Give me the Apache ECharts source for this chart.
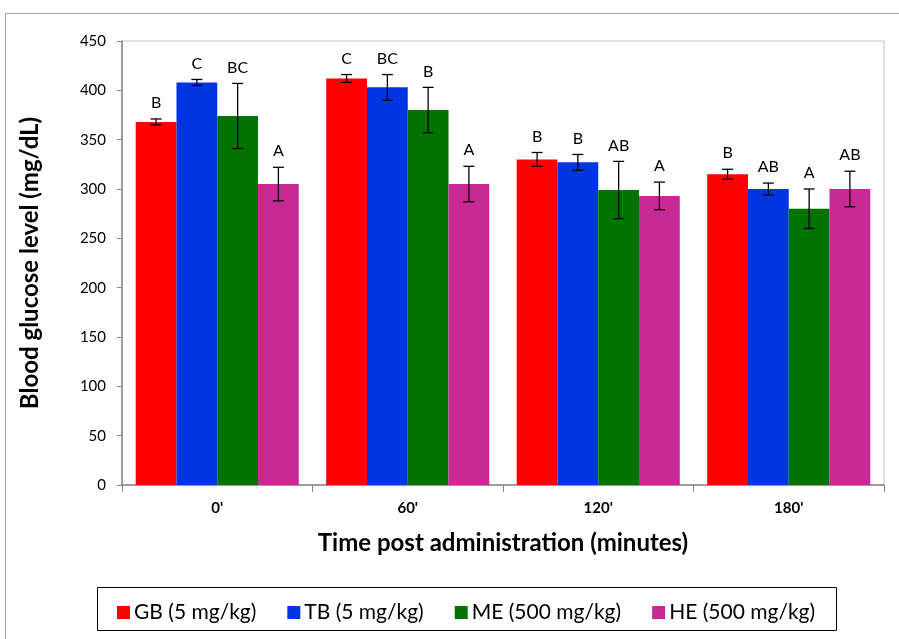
<!DOCTYPE html>
<html>
<head>
<meta charset="utf-8">
<script src="https://cdn.jsdelivr.net/npm/echarts@6/dist/echarts.min.js"></script>
<style>html,body{margin:0;padding:0;background:#fff;}#c{width:899px;height:639px;}</style>
</head>
<body>
<div id="c"></div>
<script>
const categories = ["0'", "60'", "120'", "180'"];
const seriesNames = ["GB (5 mg/kg)", "TB (5 mg/kg)", "ME (500 mg/kg)", "HE (500 mg/kg)"];
const gbValues = [368, 412, 330, 315];
const tbValues = [408, 403, 327, 300];
const meValues = [374, 380, 299, 280];
const heValues = [305, 305, 293, 300];
const gbErr = [3, 4, 7, 5];
const tbErr = [3, 13, 8, 6];
const meErr = [33, 23, 29, 20];
const heErr = [17, 18, 14, 18];
const gbLetters = ["B", "C", "B", "B"];
const tbLetters = ["C", "BC", "B", "AB"];
const meLetters = ["BC", "B", "AB", "A"];
const heLetters = ["A", "A", "A", "AB"];
const yTicks = [0, 50, 100, 150, 200, 250, 300, 350, 400, 450];

const values = [gbValues, tbValues, meValues, heValues];
const errs = [gbErr, tbErr, meErr, heErr];
const letters = [gbLetters, tbLetters, meLetters, heLetters];
const colors = ['#ff0000', '#0036e0', '#007300', '#c72a95'];
const FONT = 'Lato';
const CAT_GAP = 0.144;

const chart = echarts.init(document.getElementById('c'));

const barSeries = seriesNames.map((n, i) => ({
  name: n,
  type: 'bar',
  data: values[i],
  barGap: '0%',
  barCategoryGap: (CAT_GAP * 100) + '%',
  itemStyle: { color: colors[i] },
  emphasis: { disabled: true }
}));

const errSeries = seriesNames.map((n, i) => ({
  type: 'custom',
  z: 10,
  silent: true,
  data: categories.map((c, k) => [k, values[i][k], errs[i][k]]),
  renderItem: function (params, api) {
    const k = api.value(0);
    const v = api.value(1);
    const e = api.value(2);
    const band = api.size([1, 0])[0];
    const total = band * (1 - CAT_GAP);
    const bw = total / 4;
    const center = api.coord([k, v]);
    const x = center[0] - total / 2 + bw * (i + 0.5);
    const yTop = api.coord([k, v + e])[1];
    const yBot = api.coord([k, v - e])[1];
    const cap = 5.5;
    const st = { stroke: '#000', lineWidth: 1.3 };
    return {
      type: 'group',
      children: [
        { type: 'line', shape: { x1: x, y1: yTop, x2: x, y2: yBot }, style: st },
        { type: 'line', shape: { x1: x - cap, y1: yTop, x2: x + cap, y2: yTop }, style: st },
        { type: 'line', shape: { x1: x - cap, y1: yBot, x2: x + cap, y2: yBot }, style: st },
        { type: 'text', x: x, y: yTop - 8, style: { text: letters[i][k], fill: '#000', font: '16px ' + FONT, textAlign: 'center', textVerticalAlign: 'bottom' } }
      ]
    };
  }
}));

chart.setOption({
  animation: false,
  color: colors,
  grid: { left: 122, right: 15, top: 41, bottom: 154, show: true, borderColor: '#c4c4c4', borderWidth: 1 },
  legend: {
    data: seriesNames,
    left: 112,
    top: 597,
    itemWidth: 13,
    itemHeight: 13,
    itemGap: 31,
    icon: 'rect',
    textStyle: { fontFamily: FONT, fontSize: 21, color: '#000', padding: [0, 0, 0, -1] },
    selectedMode: false
  },
  xAxis: {
    type: 'category',
    data: categories,
    name: 'Time post administration (minutes)',
    nameLocation: 'middle',
    nameGap: 46,
    nameTextStyle: { fontFamily: FONT, fontSize: 24, fontWeight: 'bold', color: '#000' },
    axisLine: { lineStyle: { color: '#868686', width: 1.5 } },
    axisTick: { show: true, length: 7, lineStyle: { color: '#868686' } },
    axisLabel: { fontFamily: FONT, fontSize: 15, fontWeight: 'bold', color: '#000', margin: 16 },
    splitLine: { show: false }
  },
  yAxis: {
    type: 'value',
    min: 0,
    max: 450,
    interval: 50,
    name: 'Blood glucose level (mg/dL)',
    nameLocation: 'middle',
    nameGap: 80,
    nameTextStyle: { fontFamily: FONT, fontSize: 24, fontWeight: 'bold', color: '#000' },
    axisLine: { show: true, lineStyle: { color: '#868686', width: 1.5 } },
    axisTick: { show: true, length: 5, lineStyle: { color: '#868686' } },
    axisLabel: { fontFamily: FONT, fontSize: 15, color: '#000', margin: 16,
      formatter: v => yTicks.includes(v) ? String(v) : '' },
    splitLine: { show: false }
  },
  graphic: [
    { type: 'rect', shape: { x: 5.5, y: 13.5, width: 1000, height: 1000 }, style: { fill: 'none', stroke: '#a6a6a6', lineWidth: 1 }, silent: true },
    { type: 'rect', shape: { x: 97.5, y: 587.5, width: 739, height: 43 }, style: { fill: 'none', stroke: '#000', lineWidth: 1 }, silent: true }
  ],
  series: barSeries.concat(errSeries)
});
</script>
</body>
</html>
